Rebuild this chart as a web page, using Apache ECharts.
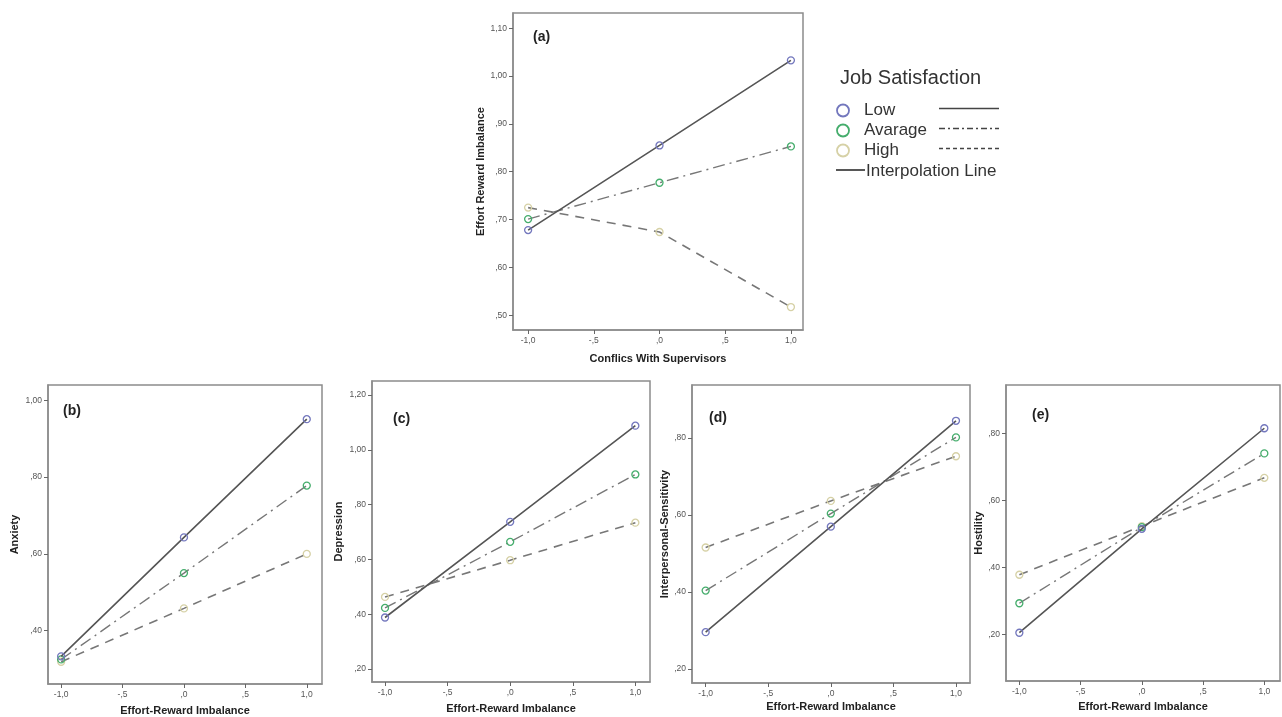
<!DOCTYPE html>
<html>
<head>
<meta charset="utf-8">
<title>Job Satisfaction interaction plots</title>
<script src="https://cdn.jsdelivr.net/npm/echarts@6.0.0/dist/echarts.min.js"></script>
<style>
  html, body { margin: 0; padding: 0; background: #fff; }
  #chart { width: 1282px; height: 717px; }
</style>
</head>
<body>
<div id="chart"></div>
<script>
// x positions (centered predictor: -1 SD, mean, +1 SD)
var xValues = [-1, 0, 1];
var xTicks = [-1, -0.5, 0, 0.5, 1];
var groupNames = ['Low', 'Avarage', 'High'];

// (a) Effort Reward Imbalance by Conflics With Supervisors
var aLow = [0.678, 0.855, 1.033];
var aAvg = [0.701, 0.777, 0.853];
var aHigh = [0.725, 0.674, 0.517];
var aTicks = [0.5, 0.6, 0.7, 0.8, 0.9, 1.0, 1.1];

// (b) Anxiety
var bLow = [0.333, 0.643, 0.951];
var bAvg = [0.325, 0.550, 0.778];
var bHigh = [0.319, 0.458, 0.600];
var bTicks = [0.4, 0.6, 0.8, 1.0];

// (c) Depression
var cLow = [0.388, 0.737, 1.088];
var cAvg = [0.423, 0.664, 0.910];
var cHigh = [0.463, 0.597, 0.734];
var cTicks = [0.2, 0.4, 0.6, 0.8, 1.0, 1.2];

// (d) Interpersonal-Sensitivity
var dLow = [0.296, 0.570, 0.845];
var dAvg = [0.404, 0.604, 0.802];
var dHigh = [0.516, 0.637, 0.753];
var dTicks = [0.2, 0.4, 0.6, 0.8];

// (e) Hostility
var eLow = [0.205, 0.515, 0.815];
var eAvg = [0.293, 0.520, 0.740];
var eHigh = [0.378, 0.523, 0.667];
var eTicks = [0.2, 0.4, 0.6, 0.8];

var FONT = '"Liberation Sans", Arial, sans-serif';
var markerColors = ['#7377bd', '#45ad6c', '#d6d1a6'];
var lineStyles = [
    {color: '#555', width: 1.6, type: 'solid'},
    {color: '#777', width: 1.4, type: [12, 5, 2, 5]},
    {color: '#777', width: 1.6, type: [9, 7]}
];

// layout of each panel: plot box [left, top, width, height] and axis extents
var panels = [
    {tag: '(a)', xName: 'Conflics With Supervisors', yName: 'Effort Reward Imbalance',
     values: [aLow, aAvg, aHigh], yTicks: aTicks,
     box: [513, 13, 290, 317], xr: [-1.115, 1.092], yr: [0.469, 1.132],
     tagPos: [533, 30], xGap: 23, yGap: 27},
    {tag: '(b)', xName: 'Effort-Reward Imbalance', yName: 'Anxiety',
     values: [bLow, bAvg, bHigh], yTicks: bTicks,
     box: [48, 385, 274, 299], xr: [-1.107, 1.124], yr: [0.261, 1.040],
     tagPos: [63, 404], xGap: 21, yGap: 28},
    {tag: '(c)', xName: 'Effort-Reward Imbalance', yName: 'Depression',
     values: [cLow, cAvg, cHigh], yTicks: cTicks,
     box: [372, 381, 278, 301], xr: [-1.104, 1.117], yr: [0.1526, 1.251],
     tagPos: [393, 412], xGap: 21, yGap: 28},
    {tag: '(d)', xName: 'Effort-Reward Imbalance', yName: 'Interpersonal-Sensitivity',
     values: [dLow, dAvg, dHigh], yTicks: dTicks,
     box: [692, 385, 278, 298], xr: [-1.109, 1.112], yr: [0.164, 0.938],
     tagPos: [709, 411], xGap: 18, yGap: 22},
    {tag: '(e)', xName: 'Effort-Reward Imbalance', yName: 'Hostility',
     values: [eLow, eAvg, eHigh], yTicks: eTicks,
     box: [1006, 385, 274, 296], xr: [-1.109, 1.128], yr: [0.061, 0.944],
     tagPos: [1032, 408], xGap: 20, yGap: 20}
];

// SPSS style labels: comma decimal, no leading zero
function spssLabel(v, digits) {
    var s = Math.abs(v).toFixed(digits).replace(/^0\./, '.').replace('.', ',');
    return (v < 0 ? '-' : '') + s;
}

function $ext(a, b){
    var o = {};
    Object.keys(a).forEach(function(k){ o[k] = a[k]; });
    Object.keys(b).forEach(function(k){ o[k] = b[k]; });
    return o;
}

var grids = [], xAxes = [], yAxes = [], titles = [], series = [];

panels.forEach(function(p, i){
    grids.push({
        left: p.box[0], top: p.box[1], width: p.box[2], height: p.box[3],
        show: true, borderColor: '#8c8c8c', borderWidth: 1.5, backgroundColor: '#fff'
    });
    var axisCommon = {
        nameLocation: 'middle',
        nameTextStyle: {fontFamily: FONT, fontWeight: 'bold', fontSize: 11, color: '#222'},
        axisLine: {show: true, onZero: false, lineStyle: {color: '#8c8c8c', width: 1.5}},
        splitLine: {show: false}
    };
    xAxes.push($ext(axisCommon, {
        type: 'value', gridIndex: i, min: p.xr[0], max: p.xr[1],
        name: p.xName, nameGap: p.xGap,
        axisTick: {show: true, customValues: xTicks, length: 4, lineStyle: {color: '#666'}},
        axisLabel: {customValues: xTicks, fontFamily: FONT, fontSize: 8.5, color: '#555', margin: 6,
            formatter: function(v){ return spssLabel(v, 1); }}
    }));
    yAxes.push($ext(axisCommon, {
        type: 'value', gridIndex: i, min: p.yr[0], max: p.yr[1],
        name: p.yName, nameGap: p.yGap,
        axisTick: {show: true, customValues: p.yTicks, length: 4, lineStyle: {color: '#666'}},
        axisLabel: {customValues: p.yTicks, fontFamily: FONT, fontSize: 8.5, color: '#555', margin: 6,
            formatter: function(v){ return spssLabel(v, 2); }}
    }));
    titles.push({
        text: p.tag, left: p.tagPos[0], top: p.tagPos[1], padding: 0,
        textStyle: {fontFamily: FONT, fontSize: 14, fontWeight: 'bold', color: '#222'}
    });
    p.values.forEach(function(vals, j){
        series.push({
            type: 'line', name: groupNames[j], xAxisIndex: i, yAxisIndex: i,
            data: xValues.map(function(x, k){ return [x, vals[k]]; }),
            symbol: 'circle', symbolSize: 7,
            itemStyle: {color: 'rgba(255,255,255,0)', borderColor: markerColors[j], borderWidth: 1.3},
            lineStyle: lineStyles[j],
            emphasis: {disabled: true},
            z: 3 - j
        });
    });
});

// legend drawn by hand to match the SPSS layout
var legendRows = [110.5, 130.5, 150.5];
var legendDash = [null, [6, 3, 2, 3], [4, 3]];
var graphic = [{
    type: 'text', x: 840, y: 78,
    style: {text: 'Job Satisfaction', font: '20px ' + FONT, fill: '#333', verticalAlign: 'middle'}
}];
groupNames.forEach(function(name, j){
    var y = legendRows[j];
    graphic.push({type: 'circle', shape: {cx: 843, cy: y, r: 6},
        style: {fill: 'none', stroke: markerColors[j], lineWidth: 1.8}});
    graphic.push({type: 'text', x: 864, y: y,
        style: {text: name, font: '17px ' + FONT, fill: '#333', verticalAlign: 'middle'}});
    graphic.push({type: 'line', shape: {x1: 939, y1: y - 2, x2: 999, y2: y - 2},
        style: {stroke: '#444', lineWidth: 1.5, lineDash: legendDash[j]}});
});
graphic.push({type: 'line', shape: {x1: 836, y1: 170, x2: 865, y2: 170},
    style: {stroke: '#444', lineWidth: 1.8}});
graphic.push({type: 'text', x: 866, y: 171.5,
    style: {text: 'Interpolation Line', font: '17px ' + FONT, fill: '#333', verticalAlign: 'middle'}});

var chart = echarts.init(document.getElementById('chart'));
chart.setOption({
    backgroundColor: '#fff',
    animation: false,
    title: titles,
    grid: grids,
    xAxis: xAxes,
    yAxis: yAxes,
    series: series,
    graphic: graphic
});
</script>
</body>
</html>
